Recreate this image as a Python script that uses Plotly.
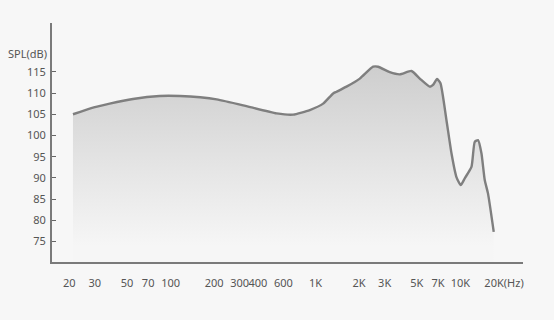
import plotly.graph_objects as go

freq_hz = [21.2, 28, 38, 55, 84, 116, 160, 208, 317, 539, 701, 914, 1129, 1323, 1397,
           1637, 2022, 2498, 2704, 3256, 3816, 4597, 5244, 6145, 6477, 6901, 7287,
           8014, 8677, 9391, 10055, 10715, 11923, 12561, 13237, 13970, 14722, 15513, 16982]
spl_db = [105.0, 106.4, 107.5, 108.6, 109.3, 109.3, 109.0, 108.5, 107.1, 105.2, 104.9,
          106.0, 107.5, 109.9, 110.3, 111.5, 113.4, 116.2, 116.2, 114.9, 114.4, 115.2,
          113.4, 111.5, 111.9, 113.3, 112.3, 103.6, 95.8, 90.2, 88.3, 89.9, 92.6, 98.5,
          98.9, 95.8, 89.5, 86.3, 77.3]

x_tick_vals = [20, 30, 50, 70, 100, 200, 300, 400, 600, 1000, 2000, 3000, 5000, 7000, 10000, 20000]
x_tick_text = ["20", "30", "50", "70", "100", "200", "300", "400", "600", "1K", "2K", "3K",
               "5K", "7K", "10K", "20K(Hz)"]
y_tick_vals = [75, 80, 85, 90, 95, 100, 105, 110, 115]

BG = "#f7f7f7"
FONT = dict(family="Noto Sans, Open Sans, sans-serif", size=11, color="#555555")

fig = go.Figure()
fig.add_trace(go.Scatter(
    x=freq_hz, y=spl_db, mode="lines",
    line=dict(color="#7f7f7f", width=2.4, shape="spline", smoothing=0.5),
    fill="tozeroy",
    fillgradient=dict(type="vertical", start=74, stop=117,
                      colorscale=[[0, "#f6f6f6"], [0.5, "#e2e2e2"], [1, "#cdcdcd"]]),
    hoverinfo="skip", showlegend=False,
))

fig.update_layout(
    width=554, height=320,
    margin=dict(l=52, r=31, t=23, b=58),
    paper_bgcolor=BG, plot_bgcolor=BG,
    font=FONT,
    showlegend=False,
    xaxis=dict(type="log", range=[1.1817, 4.432], tickvals=x_tick_vals, ticktext=x_tick_text,
               showgrid=False, zeroline=False, showline=True, linecolor="#7a7a7a", linewidth=2,
               ticks="", tickangle=0, ticklabelstandoff=10, tickfont=FONT),
    yaxis=dict(range=[70.19, 126.5], tickvals=y_tick_vals,
               showgrid=False, zeroline=False, showline=True, linecolor="#7a7a7a", linewidth=2,
               ticks="inside", ticklen=4, tickwidth=1, tickcolor="#666666",
               ticklabelstandoff=2, tickfont=FONT),
    annotations=[dict(text="SPL(dB)", xref="paper", yref="y", x=-0.006, y=119.4,
                      xanchor="right", yanchor="middle", showarrow=False, font=FONT)],
)

fig.write_html("out.html")
